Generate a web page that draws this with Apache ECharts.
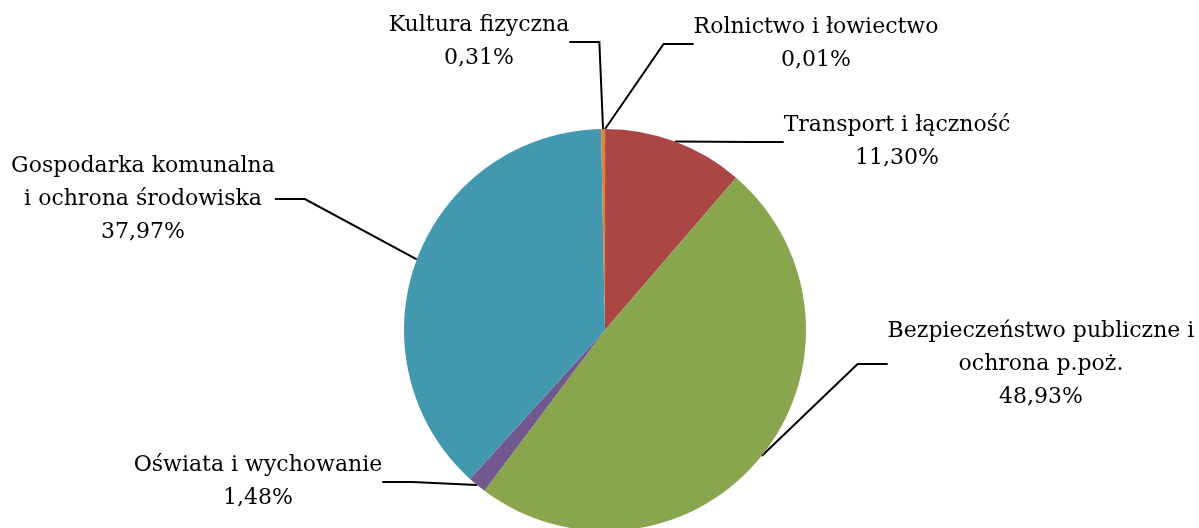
<!DOCTYPE html>
<html>
<head>
<meta charset="utf-8">
<script src="https://cdn.jsdelivr.net/npm/echarts@6/dist/echarts.min.js"></script>
<style>
  html, body { margin: 0; padding: 0; background: #fff; }
  #chart { width: 1199px; height: 528px; }
</style>
</head>
<body>
<div id="chart"></div>
<script>
// dane wykresu
const categories = [
  "Rolnictwo i łowiectwo",
  "Transport i łączność",
  "Bezpieczeństwo publiczne i\nochrona p.poż.",
  "Oświata i wychowanie",
  "Gospodarka komunalna\ni ochrona środowiska",
  "Kultura fizyczna"
];
const shares = [0.01, 11.30, 48.93, 1.48, 37.97, 0.31];
const colors = ["#4572A7", "#AA4643", "#89A54E", "#71588F", "#4198AF", "#DB843D"];

// położenie etykiet (środek bloku tekstu)
const labelPos = [
  [816, 44],
  [897, 142],
  [1041, 364],
  [258, 482],
  [143, 199],
  [479, 42]
];

const chart = echarts.init(document.getElementById("chart"));

const option = {
  animation: false,
  series: [
    {
      type: "pie",
      center: [605, 330],
      radius: 201,
      startAngle: 90,
      clockwise: true,
      avoidLabelOverlap: false,
      data: categories.map((name, i) => ({
        name: name,
        value: shares[i],
        itemStyle: { color: colors[i] }
      })),
      label: {
        show: true,
        position: "outside",
        color: "#000",
        fontFamily: "DejaVu Serif",
        fontSize: 22,
        lineHeight: 33,
        align: "center",
        formatter: (p) => p.name + "\n" + p.value.toFixed(2).replace(".", ",") + "%"
      },
      labelLine: {
        show: true,
        lineStyle: { color: "#000", width: 2 }
      },
      labelLayout: (params) => {
        const pos = labelPos[params.dataIndex];
        return { x: pos[0], y: pos[1], align: "center", verticalAlign: "middle" };
      },
      itemStyle: { borderWidth: 0 },
      emphasis: { disabled: true }
    }
  ]
};

chart.setOption(option);
</script>
</body>
</html>
